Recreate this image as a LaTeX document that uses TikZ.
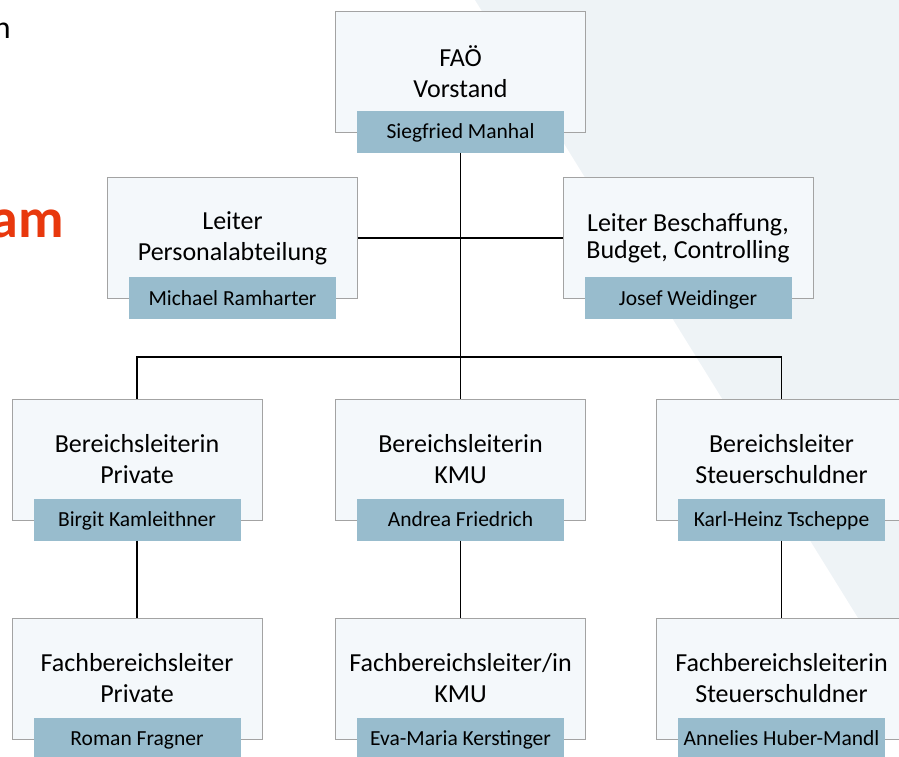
\documentclass[tikz,border=0pt]{standalone}
\usepackage{fontspec}
\setmainfont{Carlito}
\usetikzlibrary{positioning}

\definecolor{boxfill}{HTML}{F4F8FB}
\definecolor{boxline}{HTML}{A3A3A3}
\definecolor{namefill}{HTML}{98BCCD}
\definecolor{bgshade}{HTML}{EEF3F6}
\definecolor{titlered}{HTML}{E8380D}

\begin{document}
\begin{tikzpicture}[
    x = 1pt, y = -1pt, % pixel units, y grows downwards
    node distance = 97pt and 72pt, % gaps between boxes
    conn/.style = {line width = 1.2pt, black} % line style
    ]

    \tikzset{
    box/.style = {
    draw = boxline,
    fill = boxfill,
    line width = 1pt,
    minimum width = 250pt,
    minimum height = 121pt,
    align = center,
    font = \fontsize{26}{31}\selectfont
    },
    namebar/.style = {
    fill = namefill,
    minimum width = 207pt,
    minimum height = 42pt,
    inner xsep = 6pt,
    text depth = 0pt,
    yshift = 1pt,
    font = \fontsize{21.5}{24}\selectfont
    }
    }

    \useasboundingbox (0,0) rectangle (899,756);
    \fill[bgshade] (475,0) -- (899,0) -- (899,684) -- cycle;

    % cut-off slide title
    \node[anchor=base east, inner sep=0pt, font=\fontsize{32}{36}\selectfont] (titleA) at (11,38) {n};
    \node[anchor=base east, inner sep=0pt, text=titlered, font=\fontsize{56}{60}\selectfont\bfseries] (titleB) at (64,237) {am};

    \node[box] (vorstand) at (460.5,71.5) {FAÖ\\Vorstand};
    \node[box] (pers) at (232.5,238) {Leiter\\Personalabteilung};
    \node[box, font=\fontsize{26}{27}\selectfont] (besch) at (688,238) {Leiter Beschaffung,\\Budget, Controlling};

    \node[box] (kmu) at (460.5,459.5) {Bereichsleiterin\\KMU};
    \node[box] (priv) [left=72.5pt of kmu] {Bereichsleiterin\\Private};
    \node[box] (steuer) [right=70pt of kmu] {Bereichsleiter\\Steuerschuldner};

    \node[box] (privF) [below=of priv] {Fachbereichsleiter\\Private};
    \node[box] (kmuF) [below=of kmu] {Fachbereichsleiter/in\\KMU};
    \node[box] (steuerF) [below=of steuer] {Fachbereichsleiterin\\Steuerschuldner};

    \node[namebar] (vorstandN) at (vorstand.south) {Siegfried Manhal};
    \node[namebar] (persN) at (pers.south) {Michael Ramharter};
    \node[namebar] (beschN) at (besch.south) {Josef Weidinger};
    \node[namebar] (privN) at (priv.south) {Birgit Kamleithner};
    \node[namebar] (kmuN) at (kmu.south) {Andrea Friedrich};
    \node[namebar] (steuerN) at (steuer.south) {Karl-Heinz Tscheppe};
    \node[namebar] (privFN) at (privF.south) {Roman Fragner};
    \node[namebar] (kmuFN) at (kmuF.south) {Eva-Maria Kerstinger};
    \node[namebar] (steuerFN) at (steuerF.south) {Annelies Huber-Mandl};

    \coordinate (bus) at (460.5,357);

    \draw[conn] (vorstandN) -- (kmu);
    \draw[conn] (pers) -- (besch);
    \draw[conn] (priv.north) -- (priv.north |- bus) -- (steuer.north |- bus) -- (steuer.north);
    \draw[conn] (privN) -- (privF);
    \draw[conn] (kmuN) -- (kmuF);
    \draw[conn] (steuerN) -- (steuerF);

\end{tikzpicture}
\end{document}
